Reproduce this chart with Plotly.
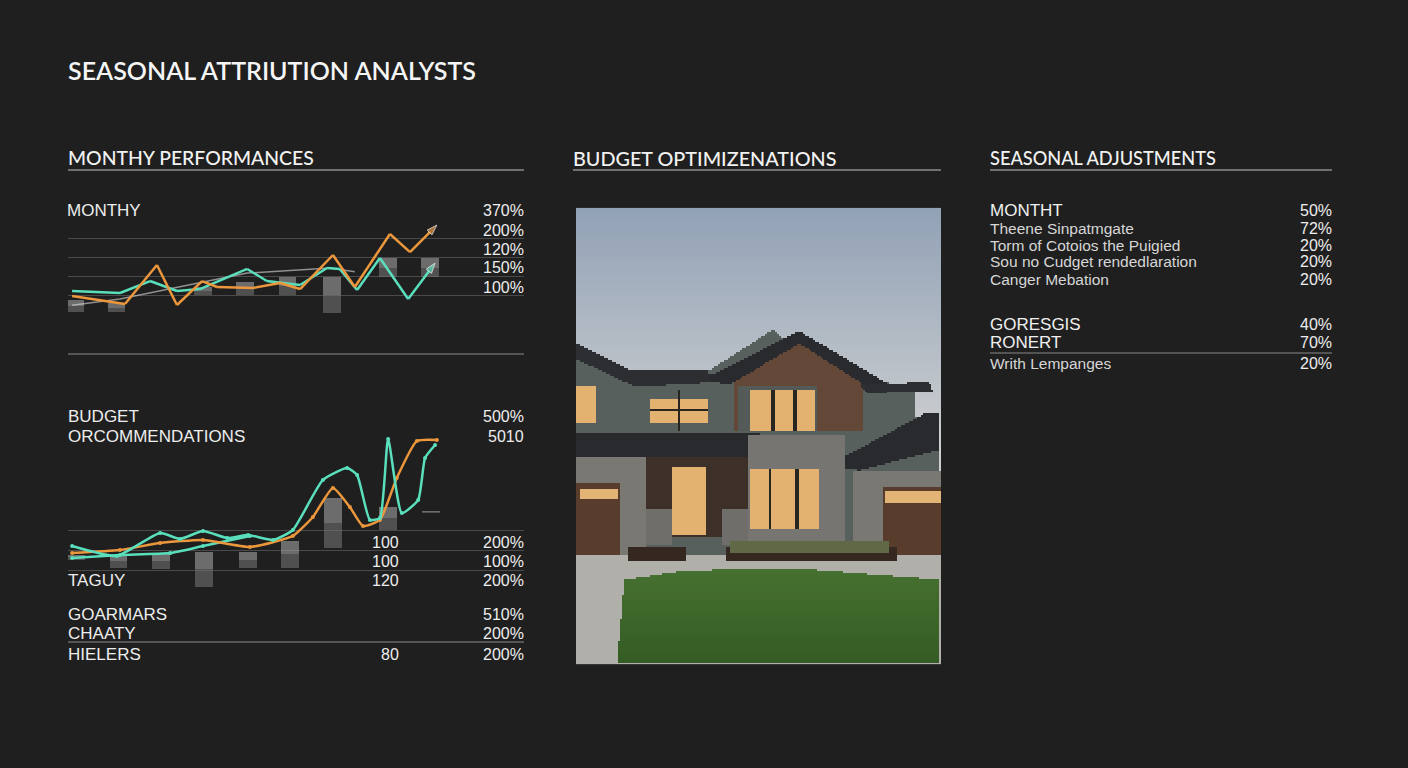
import numpy as np
import plotly.graph_objects as go

W, H = 1408, 768
BG = "#1f1f1f"
ORANGE = "#ec973c"
TEAL = "#5adfbd"
HEAD_FONT = "Lato"
BODY_FONT = "Liberation Sans"

# ---- text content ----
title = "SEASONAL ATTRIUTION ANALYSTS"
sections = ["MONTHY PERFORMANCES", "BUDGET OPTIMIZENATIONS", "SEASONAL ADJUSTMENTS"]
section_x = [68, 573, 990]
section_end = [524, 941, 1332]
section_size = [19.4, 19.8, 18.2]

# ---- monthly performance chart (index 0-100) ----
m_orange_x = [0.9, 12.5, 19.5, 23.9, 29.4, 32.7, 40.6, 46.5, 50.9, 58.1, 62.9, 70.6, 75.0, 80.9]
m_orange_y = [22.8, 15.2, 52.4, 14.3, 37.1, 31.4, 30.5, 35.2, 29.5, 61.9, 31.4, 81.9, 64.7, 90.4]
m_teal_x = [0.9, 11.4, 18.0, 23.9, 28.9, 39.3, 43.6, 50.9, 56.8, 59.6, 63.4, 68.4, 74.6, 80.5]
m_teal_y = [27.6, 25.7, 37.1, 27.6, 29.5, 48.6, 37.1, 33.3, 49.5, 48.6, 28.6, 59.0, 20.0, 54.3]
m_white_x = [0.9, 11.4, 39.3, 57.5, 62.9]
m_white_y = [14.0, 20.0, 44.7, 49.5, 46.0]
m_bar_x = [1.5, 10.7, 29.6, 38.8, 48.2, 57.9, 70.2, 79.4]
m_bar_lo = [7.6, 7.6, 23.8, 23.8, 23.8, 6.7, 41.0, 41.0]
m_bar_hi = [19.0, 16.2, 31.4, 36.2, 41.0, 41.0, 59.0, 59.0]
m_grid = [23.8, 41.9, 60.0, 78.1]
m_labels = ["370%", "200%", "120%", "150%", "100%"]
m_label_y = [211, 230, 249, 268, 287]

# ---- budget recommendations chart (index 0-100) ----
b_teal_x = [0.9, 10.7, 20.2, 24.6, 29.6, 34.9, 39.5, 45.0, 49.3, 55.9, 61.2, 63.4, 66.2,
            68.4, 70.2, 73.2, 76.8, 78.3, 80.5]
b_teal_y = [27.5, 21.3, 35.6, 31.9, 36.9, 32.5, 34.4, 31.3, 37.5, 68.8, 76.3, 71.9, 43.8,
            45.0, 94.4, 48.1, 56.3, 82.5, 90.6]
b_orange_x = [0.9, 11.4, 20.2, 29.6, 39.9, 49.3, 53.7, 58.1, 61.8, 64.7, 68.4, 72.1, 76.5, 80.9]
b_orange_y = [23.1, 25.0, 29.4, 31.3, 26.9, 33.8, 45.6, 63.8, 51.9, 40.0, 43.8, 70.0, 93.1, 93.8]
b_teal2_x = [0.9, 11.4, 22.4, 29.6, 39.9]
b_teal2_y = [20.0, 21.9, 23.1, 27.5, 33.8]
b_bar_x = [1.8, 11.0, 20.4, 29.8, 39.5, 48.7, 58.1, 70.2, 79.6]
b_bar_lo = [18.8, 13.8, 13.1, 1.9, 13.8, 13.8, 26.3, 37.5, 48.1]
b_bar_hi = [21.9, 21.9, 23.1, 23.8, 23.8, 30.6, 57.5, 51.9, 49.4]
b_grid = [0.6, 12.5, 24.4, 36.9]
b_head = ["BUDGET", "ORCOMMENDATIONS"]
b_head_val = ["500%", "5010"]
b_head_y = [416, 436]
b_rows_left = ["", "", "TAGUY"]
b_rows_mid = ["100", "100", "120"]
b_rows_right = ["200%", "100%", "200%"]
b_rows_y = [542, 561, 580]
g_rows_left = ["GOARMARS", "CHAATY", "HIELERS"]
g_rows_mid = ["", "", "80"]
g_rows_right = ["510%", "200%", "200%"]
g_rows_y = [614, 633, 654]

# ---- seasonal adjustments table ----
s_rows = ["MONTHT", "Theene Sinpatmgate", "Torm of Cotoios the Puigied",
          "Sou no Cudget rendedlaration", "Canger Mebation"]
s_vals = ["50%", "72%", "20%", "20%", "20%"]
s_y = [211, 228, 245, 262, 279]
s2_rows = ["GORESGIS", "RONERT", "Writh Lempanges"]
s2_vals = ["40%", "70%", "20%"]
s2_y = [325, 343, 363]


def px(x):
    return x / W


def py(y):
    return 1 - y / H


# ---- stylised house photo ----
ih, iw = 229, 183
yy, xx = np.mgrid[0:ih, 0:iw]
fy = yy / (ih - 1)
fx = xx / (iw - 1)


def poly(pts):
    inside = np.zeros(fx.shape, dtype=bool)
    n = len(pts)
    for i in range(n):
        x1, y1 = pts[i]
        x2, y2 = pts[(i + 1) % n]
        cond = ((y1 > fy) != (y2 > fy)) & (fx < (x2 - x1) * (fy - y1) / (y2 - y1 + 1e-12) + x1)
        inside ^= cond
    return inside


def rect(x0, y0, x1, y1):
    return (fx >= x0) & (fx <= x1) & (fy >= y0) & (fy <= y1)


img = np.zeros((ih, iw, 3))
t = np.clip(fy / 0.5, 0, 1)[..., None]
img[:] = np.array([146, 162, 182]) * (1 - t) + np.array([204, 206, 208]) * t


def paint(mask, col):
    img[mask] = col


paint(poly([(0, 0.305), (0.14, 0.365), (0.34, 0.365), (0.54, 0.265), (0.58, 0.29), (0.614, 0.27),
            (0.85, 0.38), (0.93, 0.395), (0.93, 0.46), (1.0, 0.45), (1.0, 0.77), (0, 0.77)]),
      (88, 96, 94))
paint(poly([(0.43, 0.375), (0.614, 0.295), (0.79, 0.38), (0.79, 0.49), (0.43, 0.49)]), (100, 72, 55))
paint(rect(0.44, 0.39, 0.66, 0.49), (84, 90, 88))
paint(poly([(0.34, 0.375), (0.614, 0.268), (0.86, 0.385), (0.80, 0.39), (0.614, 0.295), (0.42, 0.385)]),
      (40, 42, 46))
paint(poly([(0.0, 0.295), (0.15, 0.355), (0.36, 0.355), (0.37, 0.38), (0.16, 0.39), (0.0, 0.33)]),
      (44, 46, 50))
paint(poly([(0.78, 0.385), (0.97, 0.38), (0.98, 0.40), (0.80, 0.405)]), (44, 46, 50))
paint(rect(0.0, 0.495, 0.5, 0.545), (40, 42, 46))
paint(poly([(0.68, 0.57), (0.96, 0.45), (1.0, 0.45), (1.0, 0.53), (0.78, 0.575)]), (40, 42, 46))
paint(rect(0.0, 0.545, 0.19, 0.76), (122, 120, 115))
paint(rect(0.47, 0.50, 0.74, 0.74), (118, 117, 113))
paint(rect(0.76, 0.575, 1.0, 0.76), (122, 120, 115))
paint(rect(0.19, 0.545, 0.47, 0.72), (60, 48, 40))
paint(rect(0.19, 0.66, 0.26, 0.74), (112, 110, 106))
paint(rect(0.40, 0.66, 0.47, 0.74), (112, 110, 106))
for x0, y0, x1, y1 in [(0.0, 0.39, 0.05, 0.47), (0.2, 0.42, 0.36, 0.47), (0.475, 0.395, 0.655, 0.49),
                       (0.26, 0.57, 0.355, 0.715), (0.475, 0.572, 0.665, 0.705)]:
    paint(rect(x0, y0, x1, y1), (228, 178, 112))
for xm in [0.275, 0.535, 0.595]:
    paint(rect(xm, 0.395, xm + 0.01, 0.49) & rect(0.2, 0.39, 0.66, 0.5), (40, 36, 32))
paint(rect(0.2, 0.44, 0.36, 0.447), (40, 36, 32))
paint(rect(0.528, 0.572, 0.538, 0.705), (40, 36, 32))
paint(rect(0.60, 0.572, 0.61, 0.705), (40, 36, 32))
paint(rect(0.0, 0.605, 0.12, 0.76), (88, 60, 44))
paint(rect(0.842, 0.61, 1.0, 0.76), (88, 60, 44))
paint(rect(0.01, 0.618, 0.11, 0.64), (226, 180, 118))
paint(rect(0.85, 0.622, 1.0, 0.645), (226, 180, 118))
paint(rect(0.0, 0.76, 1.0, 1.0), (176, 175, 170))
paint(rect(0.14, 0.745, 0.30, 0.775), (52, 40, 32))
paint(rect(0.41, 0.745, 0.88, 0.775), (52, 40, 32))
paint(rect(0.42, 0.73, 0.86, 0.755), (96, 104, 70))
lawn = poly([(0.13, 0.815), (0.3, 0.795), (0.6, 0.79), (1.0, 0.815), (1.0, 1.0), (0.11, 1.0)])
g = np.clip((fy - 0.8) / 0.2, 0, 1)[..., None]
lawn_col = np.array([70, 112, 48]) * (1 - g) + np.array([52, 92, 36]) * g
img[lawn] = lawn_col[lawn]

fig = go.Figure()

# photo on the first axes pair
fig.add_trace(go.Image(z=img.astype(np.uint8), xaxis="x", yaxis="y", hoverinfo="skip"))


def gradient_bars(xs, lo, hi, xa, ya):
    # two stacked halves: lighter top, darker bottom
    mid = [(a + b) / 2 for a, b in zip(lo, hi)]
    for base, top, col in [(lo, mid, "rgba(120,120,120,0.55)"), (mid, hi, "rgba(160,160,160,0.6)")]:
        fig.add_trace(go.Bar(x=xs, y=np.subtract(top, base), base=base, width=3.8,
                             marker=dict(color=col, line=dict(width=0)),
                             xaxis=xa, yaxis=ya, showlegend=False, hoverinfo="skip"))


# monthly chart
gradient_bars(m_bar_x, m_bar_lo, m_bar_hi, "x2", "y2")
fig.add_trace(go.Scatter(x=m_white_x, y=m_white_y, mode="lines",
                         line=dict(color="rgba(220,220,220,0.6)", width=1.5),
                         xaxis="x2", yaxis="y2", showlegend=False))
for xs, ys, col in [(m_teal_x, m_teal_y, TEAL), (m_orange_x, m_orange_y, ORANGE)]:
    fig.add_trace(go.Scatter(
        x=xs, y=ys, mode="lines+markers", line=dict(color=col, width=2.5),
        marker=dict(symbol=["circle"] * (len(xs) - 1) + ["arrow"],
                    size=[0] * (len(xs) - 1) + [11], angleref="previous", color=col),
        xaxis="x2", yaxis="y2", showlegend=False))

# budget chart
gradient_bars(b_bar_x, b_bar_lo, b_bar_hi, "x3", "y3")
for xs, ys, col in [(b_teal2_x, b_teal2_y, TEAL), (b_orange_x, b_orange_y, ORANGE), (b_teal_x, b_teal_y, TEAL)]:
    fig.add_trace(go.Scatter(
        x=xs, y=ys, mode="lines+markers", line=dict(color=col, width=2.5, shape="spline", smoothing=0.5),
        marker=dict(size=4, color=col), xaxis="x3", yaxis="y3", showlegend=False))

chart_x = [px(68), px(524)]
axis_off = dict(showgrid=False, zeroline=False, showticklabels=False, ticks="", showline=False)
fig.update_layout(
    width=W, height=H, margin=dict(l=0, r=0, t=0, b=0),
    paper_bgcolor=BG, plot_bgcolor="rgba(0,0,0,0)",
    bargap=0, barmode="overlay",
    xaxis=dict(domain=[px(576), px(941)], range=[-0.5, iw - 0.5], **axis_off),
    yaxis=dict(domain=[py(665), py(207)], range=[ih - 0.5, -0.5], **axis_off),
    xaxis2=dict(domain=chart_x, range=[0, 100], **axis_off),
    yaxis2=dict(domain=[py(320), py(215)], range=[0, 100], tickvals=m_grid, showgrid=True,
                gridcolor="#4a4a4a", gridwidth=1, zeroline=False, showticklabels=False, ticks=""),
    xaxis3=dict(domain=chart_x, range=[0, 100], **axis_off),
    yaxis3=dict(domain=[py(590), py(430)], range=[0, 100], tickvals=b_grid, showgrid=True,
                gridcolor="#4a4a4a", gridwidth=1, zeroline=False, showticklabels=False, ticks=""),
)

ann = []


def label(x, y, text, anchor="left", size=16, font=BODY_FONT, color="#ededed", weight="normal"):
    # annotations carry ~2px of padding; nudge so text edges land where intended
    x = x - 2 if anchor == "left" else x + 2
    ann.append(dict(x=px(x), y=py(y), xref="paper", yref="paper", text=text, showarrow=False,
                    xanchor=anchor, yanchor="middle",
                    font=dict(family=font, size=size, color=color, weight=weight)))


label(68, 70, title, size=25, font=HEAD_FONT, color="#f5f5f5", weight=600)
for s, x0, sz in zip(sections, section_x, section_size):
    label(x0, 158, s, size=sz, font=HEAD_FONT, color="#f2f2f2", weight=500)

label(67, 211, "MONTHY", size=17)
for t_, y_ in zip(m_labels, m_label_y):
    label(524, y_, t_, anchor="right", size=16)

for t_, v_, y_ in zip(b_head, b_head_val, b_head_y):
    label(68, y_, t_, size=17)
    label(524, y_, v_, anchor="right", size=16)
for rows_y, left, mid, right in [(b_rows_y, b_rows_left, b_rows_mid, b_rows_right),
                                 (g_rows_y, g_rows_left, g_rows_mid, g_rows_right)]:
    for y_, l_, m_, r_ in zip(rows_y, left, mid, right):
        if l_:
            label(68, y_, l_, size=17)
        if m_:
            label(399, y_, m_, anchor="right", size=16)
        label(524, y_, r_, anchor="right", size=16)

for i, (t_, v_, y_) in enumerate(zip(s_rows, s_vals, s_y)):
    label(990, y_, t_, size=17 if i == 0 else 15.5, color="#f0f0f0" if i == 0 else "#d6d6d6")
    label(1332, y_, v_, anchor="right", size=16)
for t_, v_, y_ in zip(s2_rows, s2_vals, s2_y):
    label(990, y_, t_, size=17 if t_.isupper() else 15.5, color="#f0f0f0" if t_.isupper() else "#d6d6d6")
    label(1332, y_, v_, anchor="right", size=16)

shapes = []
for x0, x1 in zip(section_x, section_end):
    shapes.append(dict(type="line", xref="paper", yref="paper", x0=px(x0), x1=px(x1), y0=py(170), y1=py(170),
                       line=dict(color="#8c8c8c", width=1.5)))
for x0, x1, y0 in [(68, 524, 354), (68, 524, 642), (990, 1332, 353)]:
    shapes.append(dict(type="line", xref="paper", yref="paper", x0=px(x0), x1=px(x1), y0=py(y0), y1=py(y0),
                       line=dict(color="#8a8a8a", width=1.2)))

fig.update_layout(annotations=ann, shapes=shapes)

fig.write_html("out.html", config={"displayModeBar": False},
               post_script="document.body.style.margin='0';document.body.style.background='#1f1f1f';")
